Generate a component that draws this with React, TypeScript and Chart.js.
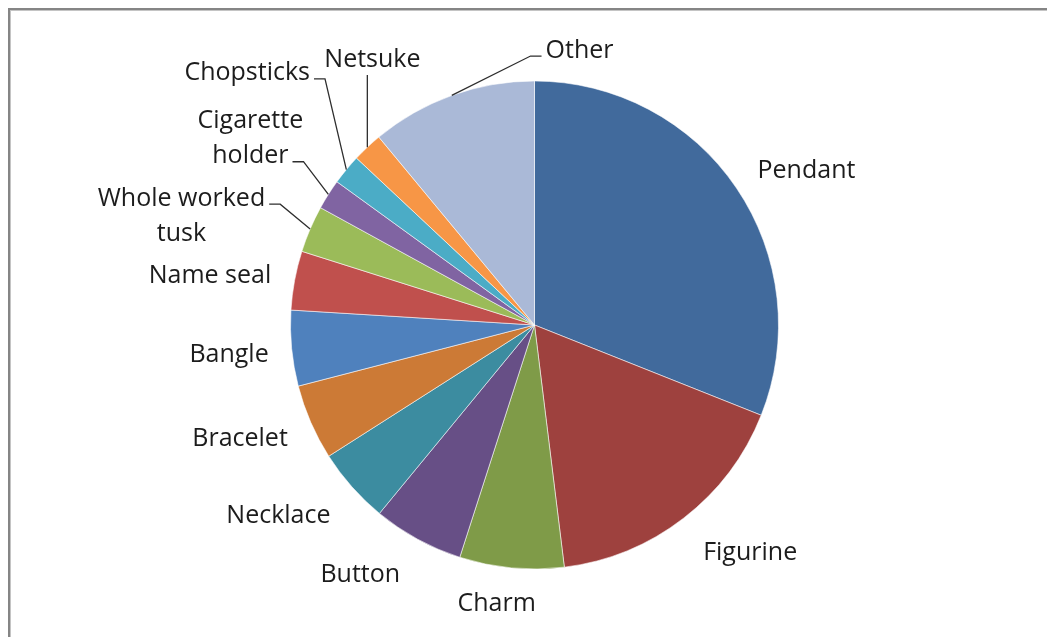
import React, { useEffect, useRef } from "react";
import { Chart, registerables } from "chart.js";

Chart.register(...registerables);

// Worked ivory objects by type (share of items, %)
const categories = [
  "Pendant",
  "Figurine",
  "Charm",
  "Button",
  "Necklace",
  "Bracelet",
  "Bangle",
  "Name seal",
  "Whole worked\ntusk",
  "Cigarette\nholder",
  "Chopsticks",
  "Netsuke",
  "Other",
];

const shares = [31.0, 17.0, 6.9, 6.0, 5.0, 5.0, 5.0, 3.9, 3.1, 2.0, 2.0, 2.0, 11.0];

const sliceColors = [
  "#416A9C",
  "#9E413E",
  "#7F9B48",
  "#674F86",
  "#3C8CA0",
  "#CC7A36",
  "#4F81BD",
  "#C0504D",
  "#9BBB59",
  "#8064A2",
  "#4BACC6",
  "#F79646",
  "#AAB9D7",
];

// Where each label's text block sits: [angle clockwise from 12 o'clock in degrees, distance in radii]
const labelPlacement: [number, number][] = [
  [60.0, 1.287],
  [136.2, 1.277],
  [187.8, 1.142],
  [215.2, 1.239],
  [233.6, 1.304],
  [249.2, 1.291],
  [264.8, 1.257],
  [279.1, 1.347],
  [287.5, 1.517],
  [303.6, 1.398],
  [311.5, 1.572],
  [328.85, 1.284],
  [9.23, 1.15],
];

type Leader = null | { side: "left" | "right" | "below"; line: number };

// Connector lines for the labels that sit away from their slice
const leaderLines: Leader[] = [
  null,
  null,
  null,
  null,
  null,
  null,
  null,
  null,
  { side: "right", line: 0 },
  { side: "right", line: 1 },
  { side: "right", line: 0 },
  { side: "below", line: 0 },
  { side: "left", line: 0 },
];

const FONT_PX = 25;
const LINE_H = 35;
const TEXT_SHIFT = 2.5;

const pieLabels = {
  id: "pieLabels",
  afterDatasetsDraw(chart: any) {
    const meta = chart.getDatasetMeta(0);
    const ctx: CanvasRenderingContext2D = chart.ctx;
    ctx.save();
    ctx.font = `${FONT_PX}px "Open Sans"`;
    ctx.fillStyle = "#1c1c1c";
    ctx.strokeStyle = "#2e2e2e";
    ctx.lineWidth = 1.3;
    ctx.textAlign = "center";
    ctx.textBaseline = "middle";
    meta.data.forEach((arc: any, i: number) => {
      const { x, y, outerRadius, startAngle, endAngle } = arc.getProps(
        ["x", "y", "outerRadius", "startAngle", "endAngle"],
        true
      );
      const r = outerRadius;
      const [deg, f] = labelPlacement[i];
      const a = (deg * Math.PI) / 180;
      const lx = x + f * r * Math.sin(a);
      const ly = y - f * r * Math.cos(a);
      const lines = String(chart.data.labels[i]).split("\n");
      const top = ly - ((lines.length - 1) * LINE_H) / 2;
      lines.forEach((t, k) => ctx.fillText(t, lx, top + k * LINE_H + TEXT_SHIFT));

      const leader = leaderLines[i];
      if (leader) {
        const mid = (startAngle + endAngle) / 2;
        const px = x + r * Math.cos(mid);
        const py = y + r * Math.sin(mid);
        ctx.beginPath();
        if (leader.side === "below") {
          ctx.moveTo(px, ly + 18);
          ctx.lineTo(px, py);
        } else {
          const w = ctx.measureText(lines[leader.line]).width;
          const sy = top + leader.line * LINE_H + 8;
          const dir = leader.side === "right" ? 1 : -1;
          const sx = lx + dir * (w / 2 + 4);
          const ex = sx + dir * 11;
          ctx.moveTo(sx, sy);
          ctx.lineTo(ex, sy);
          ctx.lineTo(px, py);
        }
        ctx.stroke();
      }
    });
    ctx.restore();
  },
};

export default function App() {
  const canvasRef = useRef<HTMLCanvasElement | null>(null);

  useEffect(() => {
    if (!canvasRef.current) return;
    const chart = new Chart(canvasRef.current, {
      type: "pie",
      data: {
        labels: categories,
        datasets: [
          {
            data: shares,
            backgroundColor: sliceColors,
            borderColor: "rgba(255,255,255,0.55)",
            borderWidth: 1,
          },
        ],
      },
      options: {
        responsive: false,
        animation: false,
        layout: {
          padding: { left: 290, right: 268, top: 80.5, bottom: 67.5 },
        },
        plugins: {
          legend: { display: false },
          tooltip: { enabled: false },
        },
      },
      plugins: [pieLabels],
    });
    return () => chart.destroy();
  }, []);

  return (
    <div
      style={{
        position: "fixed",
        left: 0,
        top: 0,
        width: 1047,
        height: 637,
        background: "#ffffff",
        overflow: "hidden",
      }}
    >
      <div
        style={{
          position: "absolute",
          left: 8,
          top: 8,
          width: 1047,
          height: 637,
          borderLeft: "2px solid #858585",
          borderTop: "2px solid #858585",
          boxShadow: "inset 1px 1px 0 #c4c4c4",
        }}
      />
      <canvas
        ref={canvasRef}
        width={1047}
        height={637}
        style={{ position: "absolute", left: 0, top: 0 }}
      />
    </div>
  );
}
